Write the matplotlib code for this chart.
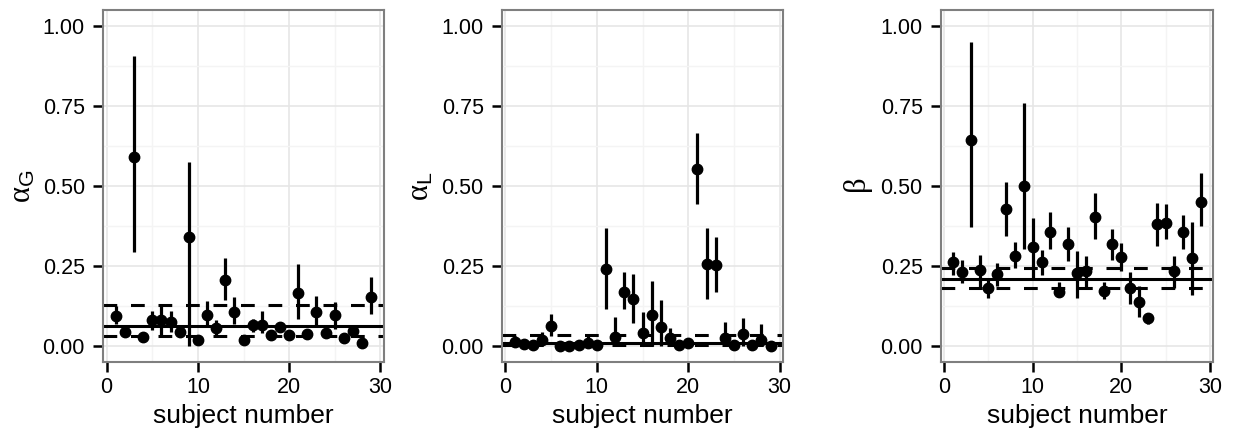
import matplotlib
matplotlib.use('Agg')
import matplotlib.pyplot as plt
import numpy as np

plt.rcParams['font.family'] = ['Liberation Sans', 'DejaVu Sans']
plt.rcParams['mathtext.fontset'] = 'custom'
plt.rcParams['mathtext.rm'] = 'Liberation Serif'
plt.rcParams['mathtext.it'] = 'Liberation Serif'
plt.rcParams['mathtext.sf'] = 'Liberation Sans'

subject = np.arange(1, 30)

# alpha_G
ag = [0.094, 0.045, 0.59, 0.028, 0.08, 0.08, 0.075, 0.045, 0.34, 0.02, 0.097, 0.056, 0.206, 0.107, 0.02,
      0.066, 0.066, 0.034, 0.06, 0.033, 0.165, 0.038, 0.107, 0.04, 0.097, 0.025, 0.047, 0.01, 0.154]
ag_lo = [0.07, 0.035, 0.295, 0.02, 0.05, 0.032, 0.045, 0.035, 0.0, 0.015, 0.065, 0.03, 0.144, 0.069, 0.015,
         0.045, 0.04, 0.028, 0.045, 0.028, 0.084, 0.03, 0.065, 0.03, 0.053, 0.02, 0.04, 0.005, 0.1]
ag_hi = [0.125, 0.055, 0.905, 0.035, 0.11, 0.128, 0.11, 0.055, 0.575, 0.025, 0.14, 0.08, 0.275, 0.153, 0.025,
         0.085, 0.11, 0.04, 0.075, 0.038, 0.256, 0.045, 0.155, 0.05, 0.139, 0.03, 0.055, 0.015, 0.217]
ag_lines = (0.064, 0.032, 0.128)

# alpha_L
al = [0.013, 0.007, 0.004, 0.018, 0.062, 0.0, 0.0, 0.003, 0.01, 0.003, 0.24, 0.027, 0.168, 0.146, 0.042,
      0.097, 0.058, 0.024, 0.003, 0.01, 0.553, 0.256, 0.253, 0.024, 0.003, 0.036, 0.004, 0.02, 0.0]
al_lo = [0.0, 0.002, 0.0, 0.002, 0.03, 0.0, 0.0, 0.0, 0.0, 0.0, 0.115, 0.0, 0.115, 0.073, 0.0,
         0.0, 0.0, 0.0, 0.0, 0.0, 0.444, 0.146, 0.17, 0.0, 0.0, 0.0, 0.0, 0.0, 0.0]
al_hi = [0.03, 0.012, 0.008, 0.045, 0.1, 0.003, 0.003, 0.008, 0.03, 0.008, 0.37, 0.09, 0.232, 0.225, 0.107,
         0.204, 0.144, 0.055, 0.008, 0.015, 0.665, 0.37, 0.34, 0.076, 0.008, 0.087, 0.008, 0.07, 0.004]
al_lines = (0.01, 0.004, 0.034)

# beta
b = [0.262, 0.23, 0.644, 0.2375, 0.182, 0.225, 0.428, 0.281, 0.5, 0.31, 0.264, 0.357, 0.17, 0.318, 0.229,
     0.234, 0.402, 0.173, 0.318, 0.279, 0.18, 0.138, 0.088, 0.38, 0.385, 0.234, 0.357, 0.274, 0.45]
b_lo = [0.222, 0.196, 0.371, 0.183, 0.149, 0.188, 0.344, 0.244, 0.302, 0.206, 0.222, 0.302, 0.155, 0.267, 0.149,
        0.183, 0.333, 0.147, 0.27, 0.235, 0.131, 0.092, 0.07, 0.313, 0.333, 0.18, 0.302, 0.16, 0.375]
b_hi = [0.295, 0.27, 0.949, 0.284, 0.21, 0.258, 0.513, 0.324, 0.758, 0.4, 0.3, 0.418, 0.2, 0.373, 0.297,
        0.28, 0.479, 0.2, 0.365, 0.323, 0.23, 0.188, 0.104, 0.446, 0.444, 0.281, 0.409, 0.388, 0.54]
b_lines = (0.21, 0.182, 0.245)

panels = [
    (r'$\mathrm{\alpha}_{\mathsf{G}}$', ag, ag_lo, ag_hi, ag_lines),
    (r'$\mathrm{\alpha}_{\mathsf{L}}$', al, al_lo, al_hi, al_lines),
    (r'$\mathrm{\beta}$', b, b_lo, b_hi, b_lines),
]
boxes = [(103, 281), (501.7, 281.6), (940.7, 272.6)]

W, H = 1233, 433
fig = plt.figure(figsize=(W / 100, H / 100), dpi=100)

for (label, val, lo, hi, lines), (x0, w) in zip(panels, boxes):
    ax = fig.add_axes([x0 / W, (H - 362) / H, w / W, 352 / H])
    ax.set_xlim(-0.4, 30.4)
    ax.set_ylim(-0.05, 1.05)
    ax.set_xticks([0, 10, 20, 30])
    ax.set_xticks([5, 15, 25], minor=True)
    ax.set_yticks([0, 0.25, 0.5, 0.75, 1.0])
    ax.set_yticklabels(['0.00', '0.25', '0.50', '0.75', '1.00'])
    ax.set_yticks([0.125, 0.375, 0.625, 0.875], minor=True)
    ax.grid(which='major', color='#e6e6e6', lw=1.2)
    ax.grid(which='minor', color='#f4f4f4', lw=1.0)
    ax.set_axisbelow(True)
    for s in ax.spines.values():
        s.set_color('#7f7f7f')
        s.set_linewidth(1.5)
    ax.tick_params(which='major', length=7, width=1.8, color='black', labelsize=15.5, pad=4)
    ax.tick_params(axis='y', which='major', pad=6)
    ax.tick_params(which='minor', length=0)

    mid, low, upp = lines
    ax.axhline(mid, color='black', lw=2.2, zorder=2)
    ax.axhline(low, color='black', lw=2.2, dashes=(4.5, 4.5), zorder=2)
    ax.axhline(upp, color='black', lw=2.2, dashes=(4.5, 4.5), zorder=2)

    ax.vlines(subject, lo, hi, color='black', lw=2.3, zorder=3)
    ax.plot(subject, val, 'o', color='black', ms=7.5, zorder=4)

    ax.set_xlabel('subject number', fontsize=19, labelpad=4)
    ax.set_ylabel(label, fontsize=22, labelpad=4)

fig.savefig('out.png', dpi=100)
